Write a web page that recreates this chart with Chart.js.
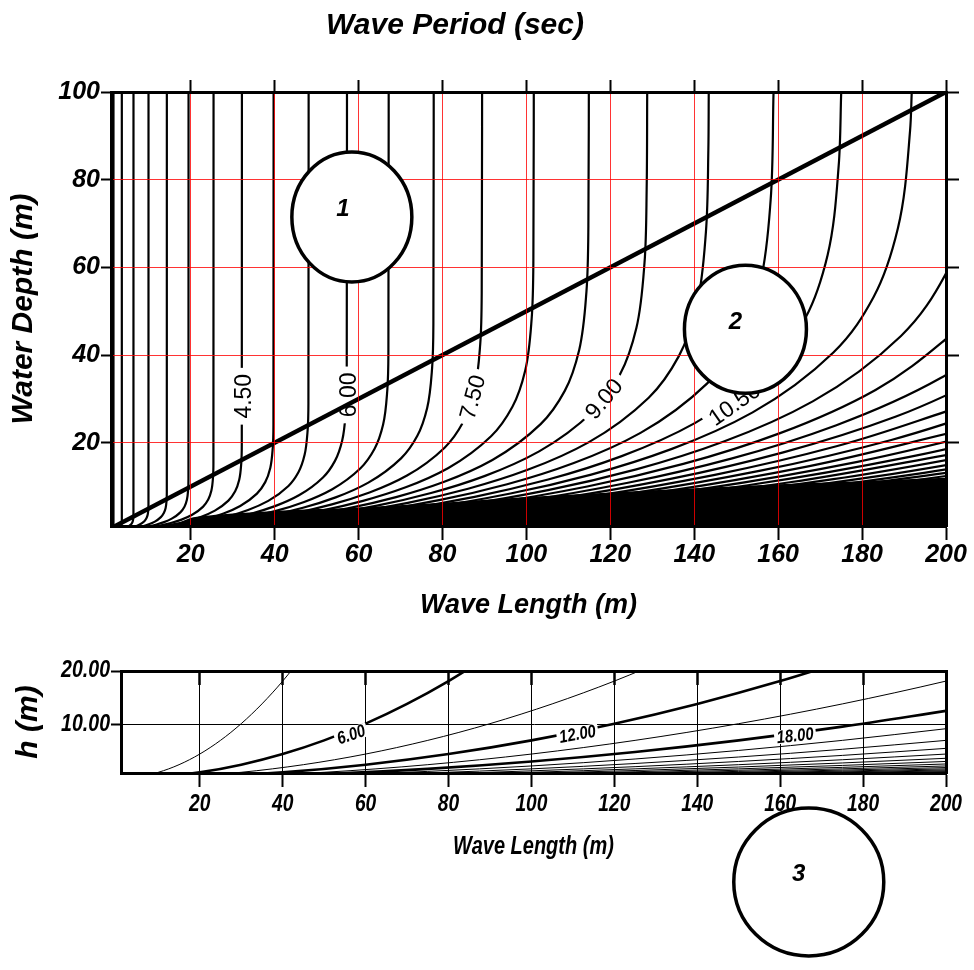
<!DOCTYPE html>
<html>
<head>
<meta charset="utf-8">
<script src="https://cdn.jsdelivr.net/npm/chart.js@4/dist/chart.umd.min.js"></script>
<style>
html,body{margin:0;padding:0;background:#fff;}
#c1{position:absolute;left:0;top:0;}
#c2{position:absolute;left:0;top:640px;}
</style>
</head>
<body>
<canvas id="c1" width="974" height="640"></canvas>
<canvas id="c2" width="974" height="330"></canvas>
<script>
// ---------------- DATA ----------------
const mainTitle = 'Wave Period (sec)';
const xTicksTop = [20, 40, 60, 80, 100, 120, 140, 160, 180, 200];
const yTicksTop = [20, 40, 60, 80, 100];
const xTicksBottom = [20, 40, 60, 80, 100, 120, 140, 160, 180, 200];
const xTickLabelsBottom = ['20', '40', '60', '80', '100', '120', '140', '160', '180', '200'];
const yTicksBottom = [10, 20];
const yTickLabelsBottom = ['10.00', '20.00'];

// wave period (s) of each contour in the upper chart
const periodsTop = [1, 1.5, 2, 2.5, 3, 3.5, 4, 4.5, 5, 5.5, 6, 6.5, 7, 7.5, 8, 8.5, 9, 9.5, 10, 10.5,
  11, 11.5, 12, 12.5, 13, 13.5, 14, 14.5, 15, 15.5, 16, 16.5, 17, 17.5, 18, 18.5, 19, 19.5];

// contour points [wave length, depth]
const T1_0 = [[1.56,0.57],[1.59,0.96],[1.59,100]];
const T1_5 = [[2.86,0.50],[3.22,0.76],[3.40,0.99],[3.51,1.28],[3.56,1.70],[3.58,2.16],[3.58,100]];
const T2_0 = [[4.45,0.61],[5.09,0.89],[5.72,1.34],[6.04,1.76],[6.23,2.28],[6.33,3.02],[6.35,3.84],[6.36,100]];
const T2_5 = [[5.96,0.66],[6.96,0.96],[7.95,1.39],[8.95,2.10],[9.44,2.75],[9.74,3.56],[9.89,4.71],[9.93,6.01],[9.94,100]];
const T3_0 = [[7.16,0.63],[8.59,0.95],[10.02,1.38],[11.45,2.00],[12.88,3.02],[13.59,3.96],[14.02,5.13],[14.24,6.79],[14.30,8.65],[14.31,100]];
const T3_5 = [[7.79,0.53],[9.74,0.85],[11.69,1.29],[13.64,1.88],[15.58,2.73],[17.53,4.11],[18.51,5.40],[19.09,6.98],[19.38,9.24],[19.46,11.77],[19.48,100]];
const T4_0 = [[10.18,0.69],[12.72,1.11],[15.26,1.68],[17.81,2.46],[20.35,3.56],[22.90,5.37],[24.17,7.05],[24.93,9.12],[25.31,12.06],[25.41,15.37],[25.44,100]];
const T4_5 = [[9.66,0.48],[12.88,0.87],[16.10,1.41],[19.32,2.13],[22.54,3.11],[25.76,4.50],[28.98,6.79],[30.59,8.92],[31.56,11.54],[32.04,15.27],[32.17,19.46],[32.20,100]];
const T5_0 = [[11.93,0.59],[15.90,1.07],[19.88,1.74],[23.85,2.63],[27.83,3.84],[31.80,5.56],[35.78,8.38],[37.76,11.01],[38.96,14.25],[39.55,18.85],[39.71,24.02],[39.75,100]];
const T5_5 = [[14.43,0.71],[19.24,1.30],[24.05,2.10],[28.86,3.18],[33.67,4.65],[38.48,6.73],[43.29,10.14],[45.70,13.32],[47.14,17.24],[47.86,22.81],[48.05,29.06],[48.10,100]];
const T6_0 = [[11.45,0.37],[17.17,0.85],[22.90,1.54],[28.62,2.50],[34.34,3.79],[40.07,5.53],[45.79,8.01],[51.52,12.07],[54.38,15.86],[56.10,20.51],[56.95,27.14],[57.18,34.58],[57.24,100]];
const T6_5 = [[13.44,0.43],[20.15,0.99],[26.87,1.81],[33.59,2.94],[40.31,4.45],[47.03,6.49],[53.74,9.40],[60.46,14.17],[63.82,18.61],[65.84,24.08],[66.84,31.86],[67.11,40.59],[67.18,100]];
const T7_0 = [[15.58,0.50],[23.37,1.15],[31.16,2.10],[38.96,3.41],[46.75,5.16],[54.54,7.53],[62.33,10.90],[70.12,16.43],[74.01,21.58],[76.35,27.92],[77.52,36.94],[77.83,47.07],[77.91,100]];
const T7_5 = [[17.89,0.58],[26.83,1.32],[35.78,2.41],[44.72,3.91],[53.66,5.92],[62.61,8.64],[71.55,12.51],[80.50,18.86],[84.97,24.77],[87.65,32.06],[88.99,42.41],[89.35,54.04],[89.44,100]];
const T8_0 = [[20.35,0.66],[30.53,1.50],[40.70,2.74],[50.88,4.45],[61.06,6.74],[71.23,9.83],[81.41,14.24],[91.58,21.46],[96.67,28.19],[99.72,36.47],[101.25,48.25],[101.66,61.48],[101.76,100]];
const T8_5 = [[22.98,0.74],[34.46,1.70],[45.95,3.10],[57.44,5.02],[68.93,7.60],[80.42,11.10],[91.90,16.07],[103.39,24.23],[109.14,31.82],[112.58,41.17],[114.31,54.48],[114.77,69.41],[114.88,100]];
const T9_0 = [[25.76,0.83],[38.64,1.90],[51.52,3.47],[64.40,5.63],[77.27,8.52],[90.15,12.44],[103.03,18.02],[115.91,27.16],[122.35,35.67],[126.21,46.16],[128.15,61.07],[128.66,77.81],[128.79,100]];
const T9_5 = [[14.35,0.23],[28.70,0.93],[43.05,2.12],[57.40,3.87],[71.75,6.27],[86.10,9.50],[100.45,13.87],[114.80,20.08],[129.15,30.26],[136.33,39.75],[140.63,51.43],[142.78,68.05],[143.36,86.70],[143.46,100]];
const T10_0 = [[15.90,0.25],[31.80,1.03],[47.70,2.35],[63.60,4.29],[79.50,6.95],[95.40,10.52],[111.30,15.36],[127.20,22.24],[143.10,33.53],[151.05,44.04],[155.82,56.99],[158.21,75.40],[158.90,100]];
const T10_5 = [[17.53,0.28],[35.06,1.13],[52.59,2.59],[70.12,4.73],[87.65,7.66],[105.18,11.60],[122.71,16.94],[140.24,24.52],[157.77,36.97],[166.54,48.56],[171.79,62.83],[174.42,83.13],[175.03,100]];
const T11_0 = [[19.24,0.31],[38.48,1.24],[57.72,2.84],[76.96,5.19],[96.20,8.41],[115.44,12.73],[134.68,18.59],[153.92,26.92],[173.16,40.58],[182.78,53.29],[188.55,68.96],[191.44,91.24],[191.84,100]];
const T11_5 = [[21.03,0.34],[42.06,1.36],[63.09,3.11],[84.12,5.67],[105.15,9.19],[126.18,13.92],[147.21,20.32],[168.24,29.42],[189.27,44.35],[199.79,58.25],[206.09,75.37],[209.27,100]];
const T12_0 = [[22.90,0.37],[45.80,1.48],[68.70,3.38],[91.60,6.18],[114.50,10.01],[137.40,15.16],[160.30,22.13],[183.20,32.04],[206.10,48.30]];
const T12_5 = [[24.84,0.40],[49.68,1.60],[74.52,3.67],[99.36,6.70],[124.20,10.86],[149.04,16.44],[173.88,24.00],[198.72,34.75],[223.56,52.39]];
const T13_0 = [[26.87,0.43],[53.74,1.73],[80.61,3.97],[107.48,7.25],[134.35,11.74],[161.22,17.79],[188.09,25.96],[214.96,37.59]];
const T13_5 = [[28.98,0.46],[57.96,1.87],[86.94,4.28],[115.92,7.82],[144.90,12.67],[173.88,19.18],[202.86,28.00]];
const T14_0 = [[31.16,0.50],[62.32,2.01],[93.48,4.61],[124.64,8.40],[155.80,13.62],[186.96,20.63],[218.12,30.11]];
const T14_5 = [[33.43,0.53],[66.86,2.16],[100.29,4.94],[133.72,9.02],[167.15,14.61],[200.58,22.13]];
const T15_0 = [[35.78,0.57],[71.56,2.31],[107.34,5.29],[143.12,9.65],[178.90,15.64],[214.68,23.68]];
const T15_5 = [[38.20,0.61],[76.40,2.46],[114.60,5.65],[152.80,10.30],[191.00,16.70],[229.20,25.28]];
const T16_0 = [[40.70,0.65],[81.40,2.63],[122.10,6.02],[162.80,10.98],[203.50,17.79]];
const T16_5 = [[43.29,0.69],[86.58,2.79],[129.87,6.40],[173.16,11.68],[216.45,18.92]];
const T17_0 = [[45.95,0.73],[91.90,2.96],[137.85,6.79],[183.80,12.39],[229.75,20.08]];
const T17_5 = [[48.69,0.78],[97.38,3.14],[146.07,7.20],[194.76,13.13],[243.45,21.28]];
const T18_0 = [[51.52,0.82],[103.04,3.32],[154.56,7.61],[206.08,13.89]];
const T18_5 = [[54.42,0.87],[108.84,3.51],[163.26,8.04],[217.68,14.68]];
const T19_0 = [[57.40,0.92],[114.80,3.70],[172.20,8.48],[229.60,15.48]];
const T19_5 = [[60.46,0.97],[120.92,3.90],[181.38,8.94],[241.84,16.31]];
const topCurves = [T1_0,T1_5,T2_0,T2_5,T3_0,T3_5,T4_0,T4_5,T5_0,T5_5,T6_0,T6_5,T7_0,T7_5,T8_0,T8_5,
  T9_0,T9_5,T10_0,T10_5,T11_0,T11_5,T12_0,T12_5,T13_0,T13_5,T14_0,T14_5,T15_0,T15_5,T16_0,T16_5,
  T17_0,T17_5,T18_0,T18_5,T19_0,T19_5];

// deep-water limit line (h = L/2)
const deepLimit = [[0, 0], [200, 100]];
// upper edge of the solid black band where the long-period contours merge
const denseEdge = [[16,0.9],[18,1.8],[20,2.6],[25,3.2],[30,3.6],[40,4.2],[60,5.0],[80,6.1],[100,7.4],
  [120,8.4],[140,9.4],[160,10.3],[180,11.0],[200,11.8]];

// lower chart: contours labelled in periods 3..63 s
const periodsBottom = [3,6,9,12,15,18,21,24,27,30,33,36,39,42,45,48,51,54,57,60,63];
const B3  = [[0,0],[5,0.28],[10,1.13],[15,2.55],[20,4.53],[25,7.08],[30,10.19],[35,13.87],[40,18.12],[45,22.94]];
const B6  = [[0,0],[10,0.28],[20,1.13],[30,2.55],[40,4.53],[50,7.08],[60,10.19],[70,13.87],[80,18.12],[90,22.94]];
const B9  = [[0,0],[15,0.28],[30,1.13],[45,2.55],[60,4.53],[75,7.08],[90,10.19],[105,13.87],[120,18.12],[135,22.94]];
const B12 = [[0,0],[20,0.28],[40,1.13],[60,2.55],[80,4.53],[100,7.08],[120,10.19],[140,13.87],[160,18.12],[180,22.94]];
const B15 = [[0,0],[25,0.28],[50,1.13],[75,2.55],[100,4.53],[125,7.08],[150,10.19],[175,13.87],[200,18.12],[225,22.94]];
const bottomXs = [0, 25, 50, 75, 100, 125, 150, 175, 200];
const H18 = [0,0.20,0.79,1.77,3.15,4.92,7.08,9.64,12.58];
const H21 = [0,0.14,0.58,1.30,2.31,3.61,5.20,7.08,9.25];
const H24 = [0,0.11,0.44,1.00,1.77,2.77,3.98,5.42,7.08];
const H27 = [0,0.09,0.35,0.79,1.40,2.18,3.15,4.28,5.59];
const H30 = [0,0.07,0.28,0.64,1.13,1.77,2.55,3.47,4.53];
const H33 = [0,0.06,0.23,0.53,0.94,1.46,2.11,2.87,3.74];
const H36 = [0,0.05,0.20,0.44,0.79,1.23,1.77,2.41,3.15];
const H39 = [0,0.04,0.17,0.38,0.67,1.05,1.51,2.05,2.68];
const H42 = [0,0.04,0.14,0.33,0.58,0.90,1.30,1.77,2.31];
const H45 = [0,0.03,0.13,0.28,0.50,0.79,1.13,1.54,2.01];
const H48 = [0,0.03,0.11,0.25,0.44,0.69,1.00,1.35,1.77];
const H51 = [0,0.02,0.10,0.22,0.39,0.61,0.88,1.20,1.57];
const H54 = [0,0.02,0.09,0.20,0.35,0.55,0.79,1.07,1.40];
const H57 = [0,0.02,0.08,0.18,0.31,0.49,0.71,0.96,1.25];
const H60 = [0,0.02,0.07,0.16,0.28,0.44,0.64,0.87,1.13];
const H63 = [0,0.02,0.06,0.14,0.26,0.40,0.58,0.79,1.03];
const bottomHs = [H18,H21,H24,H27,H30,H33,H36,H39,H42,H45,H48,H51,H54,H57,H60,H63];

// ---------------- STYLE / ANNOTATION CONFIG ----------------
const FONT = "'Liberation Sans', Arial, Helvetica, sans-serif";
const fnt = (size, style = 'italic', weight = 'bold') => ({family: FONT, size, style, weight});
const thickBottom = [6, 12, 18];
const topContourLabels = [
  {text: '4.50', x: 32.6, y: 30.6, rot: -90},
  {text: '6.00', x: 57.6, y: 30.9, rot: -90},
  {text: '7.50', x: 87.2, y: 30.4, rot: -75},
  {text: '9.00', x: 118.5, y: 30.0, rot: -50},
  {text: '10.50', x: 149.6, y: 28.8, rot: -35}
];
const bottomContourLabels = [
  {text: '6.00', x: 56.5, y: 8.2, rot: -18},
  {text: '12.00', x: 111.1, y: 8.3, rot: -10},
  {text: '18.00', x: 163.6, y: 8.0, rot: -6}
];
const topCircles = [
  {text: '1', x: 58.4, y: 71.5, rx: 60, ry: 65, dx: -9, dy: -8},
  {text: '2', x: 152.2, y: 45.9, rx: 61, ry: 64, dx: -10, dy: -7}
];
const bottomCircles = [
  {text: '3', x: 166.9, y: -19.3, rx: 75, ry: 74, dx: -10, dy: -8}
];

const toPts = a => a.map(p => ({x: p[0], y: p[1]}));
const fixTicks = vals => s => { s.ticks = vals.map(v => ({value: v})); };

function drawContourLabels(chart, labels, font, sx, boxH, pad) {
  const ctx = chart.ctx, xs = chart.scales.x, ys = chart.scales.y;
  labels.forEach(l => {
    const px = xs.getPixelForValue(l.x), py = ys.getPixelForValue(l.y);
    ctx.save();
    ctx.translate(px, py);
    ctx.rotate(l.rot * Math.PI / 180);
    ctx.scale(sx, 1);
    ctx.font = font;
    const w = ctx.measureText(l.text).width;
    ctx.fillStyle = '#fff';
    ctx.fillRect(-w / 2 - pad, -boxH / 2, w + 2 * pad, boxH);
    ctx.fillStyle = '#000';
    ctx.textAlign = 'center';
    ctx.textBaseline = 'middle';
    ctx.fillText(l.text, 0, 1);
    ctx.restore();
  });
}
function drawCircles(chart, circles) {
  const ctx = chart.ctx, xs = chart.scales.x, ys = chart.scales.y;
  circles.forEach(c => {
    const px = xs.getPixelForValue(c.x), py = ys.getPixelForValue(c.y);
    ctx.save();
    ctx.beginPath();
    ctx.ellipse(px, py, c.rx, c.ry, 0, 0, Math.PI * 2);
    ctx.fillStyle = '#fff';
    ctx.fill();
    ctx.lineWidth = 3.5;
    ctx.strokeStyle = '#000';
    ctx.stroke();
    ctx.font = 'italic bold 24px ' + FONT;
    ctx.fillStyle = '#000';
    ctx.textAlign = 'center';
    ctx.textBaseline = 'middle';
    ctx.fillText(c.text, px + c.dx, py + c.dy);
    ctx.restore();
  });
}
function narrowText(ctx, text, x, y, font, sx, align) {
  ctx.save();
  ctx.translate(x, y);
  ctx.scale(sx, 1);
  ctx.font = font;
  ctx.fillStyle = '#000';
  ctx.textAlign = align;
  ctx.textBaseline = 'middle';
  ctx.fillText(text, 0, 0);
  ctx.restore();
}

// ---------------- TOP CHART ----------------
const lineBase = {borderColor: '#000', pointRadius: 0, cubicInterpolationMode: 'monotone',
  fill: false, xAxisID: 'x', yAxisID: 'y', indexAxis: 'y'};
const topDatasets = [
  Object.assign({}, lineBase, {data: toPts(deepLimit), borderWidth: 4.5}),
  Object.assign({}, lineBase, {data: toPts(denseEdge), borderWidth: 2, indexAxis: 'x',
    fill: 'start', backgroundColor: '#000'}),
  ...topCurves.map((c, i) => Object.assign({}, lineBase, {label: String(periodsTop[i]), data: toPts(c), borderWidth: 2.2}))
];

const topDecor = {
  id: 'topDecor',
  afterDatasetDraw(chart, args) {
    if (args.index === 1) drawContourLabels(chart, topContourLabels, '23px ' + FONT, 1, 17, 6);
  },
  afterDraw(chart) {
    const ctx = chart.ctx;
    ctx.save();
    ctx.font = 'italic bold 30px ' + FONT;
    ctx.fillStyle = '#000';
    ctx.textAlign = 'center';
    ctx.textBaseline = 'alphabetic';
    ctx.fillText(mainTitle, 455, 34);
    ctx.restore();
    drawCircles(chart, topCircles);
  }
};

new Chart(document.getElementById('c1'), {
  type: 'line',
  data: {datasets: topDatasets},
  plugins: [topDecor],
  options: {
    responsive: false, animation: false, indexAxis: 'y', events: [],
    layout: {padding: {top: 80, right: 14, left: 0, bottom: 0}},
    plugins: {legend: {display: false}, tooltip: {enabled: false}, title: {display: false}},
    scales: {
      x: {type: 'linear', axis: 'x', position: 'bottom', min: 1, max: 200,
        afterBuildTicks: fixTicks(xTicksTop), afterFit: s => { s.height = 114; },
        grid: {color: c => (c.tick && c.tick.value >= 200) ? 'rgba(0,0,0,0)' : 'rgba(255,0,0,0.8)',
          lineWidth: 1, tickColor: '#000', tickWidth: 2, tickLength: 14, z: 1},
        border: {display: true, color: '#000', width: 3, z: 2},
        ticks: {color: '#000', font: fnt(25), padding: 0, maxRotation: 0, autoSkip: false},
        title: {display: true, text: 'Wave Length (m)', color: '#000', font: fnt(27), padding: {top: 0, bottom: 18}}
      },
      y: {type: 'linear', axis: 'y', position: 'left', min: 1, max: 100,
        afterBuildTicks: fixTicks(yTicksTop), afterFit: s => { s.width = 111; },
        grid: {color: c => (c.tick && c.tick.value >= 100) ? 'rgba(0,0,0,0)' : 'rgba(255,0,0,0.8)',
          lineWidth: 1, tickColor: '#000', tickWidth: 2, tickLength: 10, z: 1},
        border: {display: true, color: '#000', width: 3, z: 2},
        ticks: {color: '#000', font: fnt(25), padding: 1},
        title: {display: true, text: 'Water Depth (m)', color: '#000', font: fnt(30), padding: {top: 6, bottom: 0}}
      },
      x2: {type: 'linear', axis: 'x', position: 'top', min: 1, max: 200,
        afterBuildTicks: fixTicks(xTicksTop), afterFit: s => { s.height = 12; },
        grid: {drawOnChartArea: false, tickColor: '#000', tickWidth: 2, tickLength: 12, z: 2},
        border: {display: true, color: '#000', width: 3, z: 2},
        ticks: {display: false}
      },
      y2: {type: 'linear', axis: 'y', position: 'right', min: 1, max: 100,
        afterBuildTicks: fixTicks(yTicksTop), afterFit: s => { s.width = 14; },
        grid: {drawOnChartArea: false, tickColor: '#000', tickWidth: 2, tickLength: 13, z: 2},
        border: {display: true, color: '#000', width: 3, z: 2},
        ticks: {display: false}
      }
    }
  }
});

// ---------------- BOTTOM CHART ----------------
const bBase = {borderColor: '#000', pointRadius: 0, cubicInterpolationMode: 'monotone', fill: false,
  xAxisID: 'x', yAxisID: 'y'};
const bottomPairs = [B3, B6, B9, B12, B15];
const bottomDatasets = [];
bottomPairs.forEach((c, i) => {
  const T = periodsBottom[i];
  bottomDatasets.push(Object.assign({}, bBase, {label: String(T), data: toPts(c),
    borderWidth: thickBottom.includes(T) ? 2.6 : 1}));
});
bottomHs.forEach((h, i) => {
  const T = periodsBottom[i + bottomPairs.length];
  bottomDatasets.push(Object.assign({}, bBase, {label: String(T),
    data: bottomXs.map((x, k) => ({x: x, y: h[k]})),
    borderWidth: thickBottom.includes(T) ? 2.6 : 1}));
});

const bottomDecor = {
  id: 'bottomDecor',
  afterDatasetsDraw(chart) {
    drawContourLabels(chart, bottomContourLabels, 'italic bold 18px ' + FONT, 0.82, 14, 3);
  },
  afterDraw(chart) {
    const ctx = chart.ctx, xs = chart.scales.x, ys = chart.scales.y, a = chart.chartArea;
    drawCircles(chart, bottomCircles);
    xTicksBottom.forEach((v, i) => narrowText(ctx, xTickLabelsBottom[i], xs.getPixelForValue(v), a.bottom + 31,
      'italic bold 24px ' + FONT, 0.8, 'center'));
    yTicksBottom.forEach((v, i) => narrowText(ctx, yTickLabelsBottom[i], a.left - 11, ys.getPixelForValue(v),
      'italic bold 23px ' + FONT, 0.85, 'right'));
    narrowText(ctx, 'Wave Length (m)', (a.left + a.right) / 2, a.bottom + 74, 'italic bold 25px ' + FONT, 0.8, 'center');
  }
};

new Chart(document.getElementById('c2'), {
  type: 'line',
  data: {datasets: bottomDatasets},
  plugins: [bottomDecor],
  options: {
    responsive: false, animation: false, events: [],
    layout: {padding: {top: 17, right: 14, left: 0, bottom: 0}},
    plugins: {legend: {display: false}, tooltip: {enabled: false}, title: {display: false}},
    scales: {
      x: {type: 'linear', axis: 'x', position: 'bottom', min: 1, max: 200,
        afterBuildTicks: fixTicks(xTicksBottom), afterFit: s => { s.height = 197; },
        grid: {color: c => (c.tick && c.tick.value >= 200) ? 'rgba(0,0,0,0)' : '#000',
          lineWidth: 1, tickColor: '#000', tickWidth: 2, tickLength: 14},
        border: {display: true, color: '#000', width: 3, z: 2},
        ticks: {display: false}
      },
      y: {type: 'linear', axis: 'y', position: 'left', min: 1, max: 20,
        afterBuildTicks: fixTicks(yTicksBottom), afterFit: s => { s.width = 121; },
        grid: {color: c => (c.tick && c.tick.value >= 20) ? 'rgba(0,0,0,0)' : '#000',
          lineWidth: 1, tickColor: '#000', tickWidth: 2, tickLength: 10},
        border: {display: true, color: '#000', width: 3, z: 2},
        ticks: {display: false},
        title: {display: true, text: 'h (m)', color: '#000', font: fnt(30), padding: {top: 11, bottom: 0}}
      },
      x2: {type: 'linear', axis: 'x', position: 'top', min: 1, max: 200,
        afterBuildTicks: fixTicks(xTicksBottom), afterFit: s => { s.height = 14; },
        grid: {drawOnChartArea: false, tickColor: '#000', tickWidth: 2.5, tickLength: -14, z: 1},
        border: {display: true, color: '#000', width: 3, z: 2},
        ticks: {display: false}
      },
      y2: {type: 'linear', axis: 'y', position: 'right', min: 1, max: 20,
        afterBuildTicks: fixTicks(yTicksBottom), afterFit: s => { s.width = 14; },
        grid: {drawOnChartArea: false, drawTicks: false},
        border: {display: true, color: '#000', width: 3, z: 2},
        ticks: {display: false}
      }
    }
  }
});
</script>
</body>
</html>
